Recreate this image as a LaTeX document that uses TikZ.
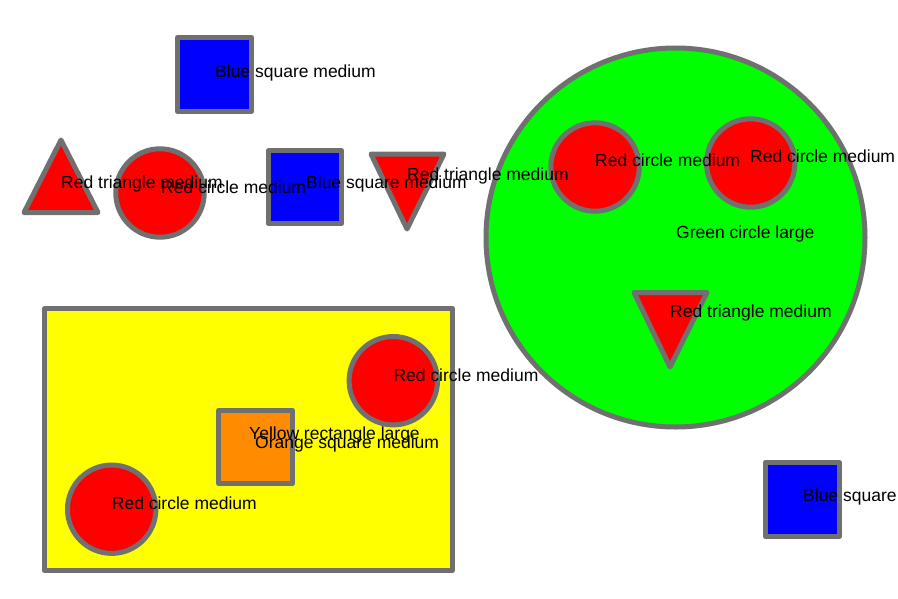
\documentclass[tikz,border=0pt]{standalone}
\usepackage{fontspec}
\setmainfont{Liberation Sans}
\definecolor{edge}{RGB}{112,112,112}
\definecolor{cred}{RGB}{255,0,0}
\definecolor{cblue}{RGB}{0,0,255}
\definecolor{cgreen}{RGB}{0,255,0}
\definecolor{cyellow}{RGB}{255,255,0}
\definecolor{corange}{RGB}{255,140,0}
\tikzset{
  shp/.style={draw=edge, line width=5pt, line join=round},
  lbl/.style={anchor=base west, inner sep=0pt, font=\fontsize{17.5}{20}\selectfont, text=black}
}
\begin{document}
\begin{tikzpicture}[x=1pt,y=-1pt]
\useasboundingbox (0,0) rectangle (898,598);
% yellow rectangle group
\draw[shp, fill=cyellow] (44.5,308.5) rectangle (452.5,570.3);
\draw[shp, fill=corange] (218.8,410.3) rectangle (292.3,483.8);
\draw[shp, fill=cred] (393.3,380.7) circle (44.2);
\draw[shp, fill=cred] (111.7,509.2) circle (44.2);
% green circle group
\draw[shp, fill=cgreen] (675.5,237.5) circle (189.5);
\draw[shp, fill=cred] (595,167) circle (44.2);
\draw[shp, fill=cred] (750.7,163) circle (44.2);
\draw[shp, fill=cred] (634,292.5) -- (707,292.5) -- (670,367) -- cycle;
% top row
\draw[shp, fill=cblue] (177.5,37.5) rectangle (251.5,111.5);
\draw[shp, fill=cred] (61,140) -- (98,212.5) -- (24,212.5) -- cycle;
\draw[shp, fill=cred] (160,193) circle (44.2);
\draw[shp, fill=cblue] (268.2,150.8) rectangle (341.8,223.5);
\draw[shp, fill=cred] (371,154) -- (444,154) -- (407,229) -- cycle;
% bottom right
\draw[shp, fill=cblue] (765.2,462.5) rectangle (839.2,536.5);
% labels
\node[lbl] (t1) at (215,77) {Blue square medium};
\node[lbl] (t2) at (61,188) {Red triangle medium};
\node[lbl] (t3) at (161,193) {Red circle medium};
\node[lbl] (t4) at (306,188.3) {Blue square medium};
\node[lbl] (t5) at (407,180) {Red triangle medium};
\node[lbl] (t6) at (595,166.7) {Red circle medium};
\node[lbl] (t7) at (750,162.7) {Red circle medium};
\node[lbl] (t8) at (676,238.3) {Green circle large};
\node[lbl] (t9) at (670,317.3) {Red triangle medium};
\node[lbl] (t10) at (393.3,381) {Red circle medium};
\node[lbl] (t11) at (249,439) {Yellow rectangle large};
\node[lbl] (t12) at (255,448.3) {Orange square medium};
\node[lbl] (t13) at (111.7,509.3) {Red circle medium};
\node[lbl] (t14) at (803,501.7) {Blue square};
\end{tikzpicture}
\end{document}
